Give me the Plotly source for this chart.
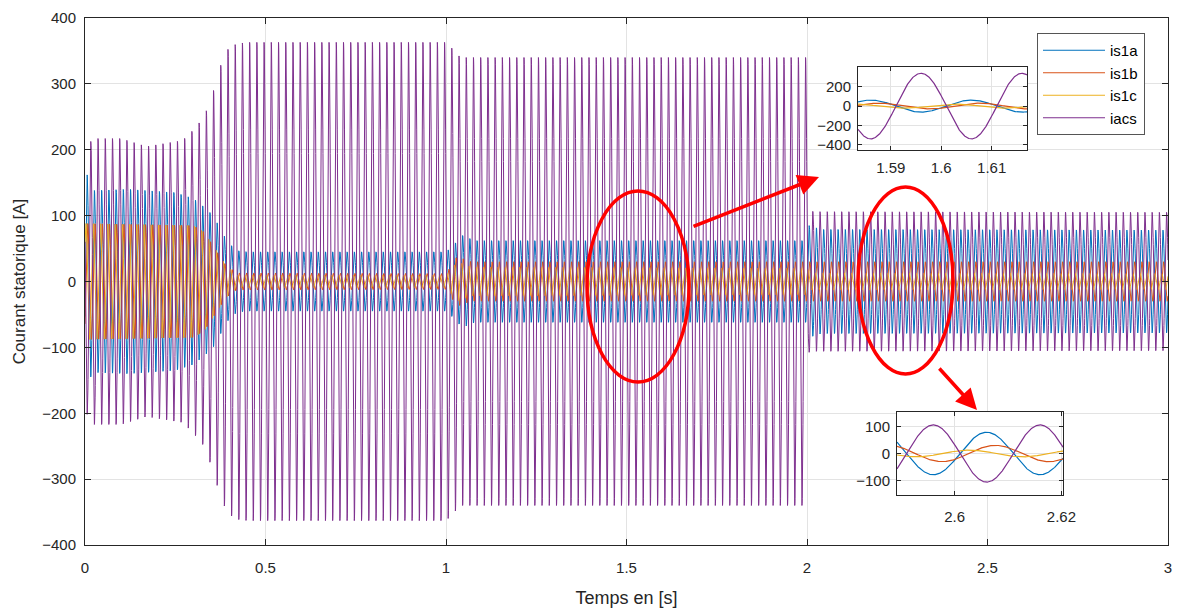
import numpy as np
import plotly.graph_objects as go

# ---------------- data ----------------
series_names = ["is1a", "is1b", "is1c", "iacs"]
series_colors = ["#0072BD", "#D95319", "#EDB120", "#7E2F8E"]

freq_hz = 50.0          # one period = 0.02 s
phase_ref_s = 0.016     # time of an iacs peak (mod 0.02 s)
phase_deg = [180.0, -209.0, -121.0, 0.0]   # is1a, is1b, is1c, iacs relative to iacs

# amplitude envelopes (time [s], peak amplitude [A])
is1a_t = [0.0, 0.02, 0.12, 0.25, 0.30, 0.33, 0.355, 0.375, 0.395, 0.42, 0.45, 1.00, 1.02, 1.045, 1.08, 2.00, 2.005, 2.04, 3.0]
is1a_amp = [172, 138, 140, 135, 126, 113, 100, 80, 60, 47, 45, 45, 55, 70, 62, 62, 85, 79, 78]

is1b_t = [0.0, 0.30, 0.33, 0.36, 0.39, 0.42, 1.00, 1.03, 1.07, 2.00, 3.0]
is1b_amp = [88, 85, 75, 50, 25, 13, 12, 38, 30, 30, 30]

is1c_t = [0.0, 0.30, 0.33, 0.36, 0.39, 0.42, 1.00, 1.03, 1.07, 2.00, 2.01, 3.0]
is1c_amp = [88, 85, 75, 50, 25, 10, 10, 30, 22, 20, 13, 12]

iacs_t = [0.0, 0.02, 0.10, 0.17, 0.27, 0.30, 0.33, 0.355, 0.375, 0.395, 0.42, 0.45, 1.00, 1.02, 1.04, 2.00, 2.001, 2.02, 3.0]
iacs_amp = [195, 217, 217, 205, 214, 230, 250, 288, 327, 352, 361, 363, 363, 352, 340, 340, 108, 106, 105]

envelopes = [(is1a_t, is1a_amp), (is1b_t, is1b_amp), (is1c_t, is1c_amp), (iacs_t, iacs_amp)]

x_ticks = [0, 0.5, 1, 1.5, 2, 2.5, 3]
x_ticktext = ["0", "0.5", "1", "1.5", "2", "2.5", "3"]
y_ticks = [-400, -300, -200, -100, 0, 100, 200, 300, 400]

inset1_range = [1.5835, 1.617]
inset1_xticks = [1.59, 1.6, 1.61]
inset1_yticks = [-400, -200, 0, 200]
inset2_range = [2.5892, 2.6203]
inset2_xticks = [2.6, 2.62]
inset2_yticks = [-100, 0, 100]


def signal(t, k):
    et, ea = envelopes[k]
    amp = np.interp(t, et, ea)
    return amp * np.cos(2 * np.pi * freq_hz * (t - phase_ref_s) + np.deg2rad(phase_deg[k]))


# ---------------- figure ----------------
W, H = 1179, 615
L, R, T, B = 85, 11, 18, 70
pw, ph = W - L - R, H - T - B


def px(x):
    return (x - L) / pw


def py(y):
    return (H - B - y) / ph


FONT = "Liberation Sans, Arial"
fig = go.Figure()
t_main = np.arange(0, 3.0 + 1e-9, 0.0004)
t_in1 = np.linspace(inset1_range[0], inset1_range[1], 500)
t_in2 = np.linspace(inset2_range[0], inset2_range[1], 500)

for k, name in enumerate(series_names):
    fig.add_trace(go.Scatter(x=t_main, y=signal(t_main, k), mode="lines", name=name,
                             line=dict(color=series_colors[k], width=1)))
for k, name in enumerate(series_names):
    fig.add_trace(go.Scatter(x=t_in1, y=signal(t_in1, k), mode="lines", name=name, showlegend=False,
                             xaxis="x2", yaxis="y2", line=dict(color=series_colors[k], width=1.2)))
for k, name in enumerate(series_names):
    fig.add_trace(go.Scatter(x=t_in2, y=signal(t_in2, k), mode="lines", name=name, showlegend=False,
                             xaxis="x3", yaxis="y3", line=dict(color=series_colors[k], width=1.2)))

axis_common = dict(showgrid=True, gridcolor="#e3e3e3", gridwidth=1, zeroline=False,
                   showline=True, linecolor="#262626", linewidth=1, mirror="ticks",
                   ticks="inside", tickcolor="#262626", ticklen=6, automargin=False,
                   tickfont=dict(family=FONT, size=15, color="#262626"))
inset_common = dict(axis_common)
inset_common["ticklen"] = 4

fig.update_layout(
    width=W, height=H,
    margin=dict(l=L, r=R, t=T, b=B, autoexpand=False),
    paper_bgcolor="white", plot_bgcolor="white",
    font=dict(family=FONT, color="#262626"),
    xaxis=dict(axis_common, domain=[0, 1], range=[0, 3], tickvals=x_ticks, ticktext=x_ticktext,
               ticklabelstandoff=9,
               title=dict(text="Temps en [s]", font=dict(family=FONT, size=18, color="#262626"), standoff=16)),
    yaxis=dict(axis_common, domain=[0, 1], range=[-400, 400], tickvals=y_ticks,
               ticklabelstandoff=5,
               title=dict(text="Courant statorique [A]", font=dict(family=FONT, size=17, color="#262626"), standoff=12)),
    xaxis2=dict(inset_common, domain=[px(858), px(1027)], range=inset1_range, anchor="y2",
                tickvals=inset1_xticks, ticktext=["1.59", "1.6", "1.61"], ticklabelstandoff=4),
    yaxis2=dict(inset_common, domain=[py(150), py(67)], range=[-455, 405], anchor="x2",
                tickvals=inset1_yticks, ticklabelstandoff=3),
    xaxis3=dict(inset_common, domain=[px(897), px(1063)], range=inset2_range, anchor="y3",
                tickvals=inset2_xticks, ticktext=["2.6", "2.62"], ticklabelstandoff=8),
    yaxis3=dict(inset_common, domain=[py(495), py(412)], range=[-153, 153], anchor="x3",
                tickvals=inset2_yticks, ticklabelstandoff=3),
    legend=dict(x=px(1037), y=py(33), xanchor="left", yanchor="top",
                bgcolor="white", bordercolor="#555555", borderwidth=1, itemwidth=62,
                tracegroupgap=0,
                font=dict(family=FONT, size=15, color="#000000")),
    showlegend=True,
)

# red ellipses
for (x0, x1, y0, y1) in [(587, 689, 191, 382), (858, 953, 187, 374)]:
    fig.add_shape(type="circle", xref="paper", yref="paper",
                  x0=px(x0), x1=px(x1), y0=py(y1), y1=py(y0),
                  line=dict(color="#ff0000", width=3.5), layer="above")

# red arrows (head, tail)
for (hx, hy, tx, ty) in [(819, 177, 692, 227), (977, 410, 938, 367)]:
    fig.add_annotation(x=px(hx), y=py(hy), xref="paper", yref="paper", text="",
                       showarrow=True, ax=tx - hx, ay=ty - hy, arrowhead=2, arrowsize=1.2,
                       arrowwidth=3.5, arrowcolor="#ff0000", standoff=0)

fig.write_html("out.html", config={"displayModeBar": False},
               post_script="document.body.style.margin='0';document.body.style.overflow='hidden';")
